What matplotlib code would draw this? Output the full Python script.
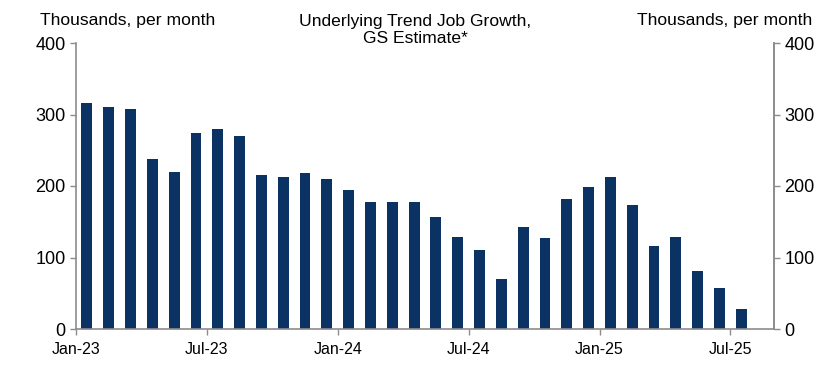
import matplotlib
matplotlib.use("Agg")
import matplotlib.pyplot as plt
import numpy as np

months = ["Jan-23","Feb-23","Mar-23","Apr-23","May-23","Jun-23","Jul-23","Aug-23","Sep-23","Oct-23","Nov-23","Dec-23",
          "Jan-24","Feb-24","Mar-24","Apr-24","May-24","Jun-24","Jul-24","Aug-24","Sep-24","Oct-24","Nov-24","Dec-24",
          "Jan-25","Feb-25","Mar-25","Apr-25","May-25","Jun-25","Jul-25"]
values = [316, 310, 307, 238, 220, 274, 280, 270, 215, 213, 218, 210,
          194, 178, 177, 177, 156, 129, 110, 70, 142, 127, 182, 198,
          213, 174, 116, 128, 81, 58, 28]
tick_labels = ["Jan-23", "Jul-23", "Jan-24", "Jul-24", "Jan-25", "Jul-25"]
y_ticks = [0, 100, 200, 300, 400]

plt.rcParams['font.family'] = ['Liberation Sans', 'DejaVu Sans']
fig = plt.figure(figsize=(8.4, 3.66), dpi=100)
ax = fig.add_axes([76/840, 1-329/366, (774-76)/840, (329-43)/366])

x = np.arange(len(values))
ax.bar(x, values, width=0.5, color='#0a3263')
ax.set_xlim(-0.5, len(values) + 0.5)
ax.set_ylim(0, 400)

tick_pos = [months.index(t) - 0.5 for t in tick_labels]
ax.set_xticks(tick_pos)
ax.set_xticklabels(tick_labels, fontsize=11.5)
ax.set_yticks(y_ticks)
ax.set_yticklabels([str(v) for v in y_ticks], fontsize=13)

gray = '#8c8c8c'
for s in ['left', 'bottom', 'right']:
    ax.spines[s].set_color(gray)
    ax.spines[s].set_linewidth(1.2)
ax.spines['top'].set_visible(False)
ax.tick_params(axis='both', colors=gray, labelcolor='black', length=4, width=1)
ax.tick_params(axis='x', pad=5)

ax2 = ax.twinx()
ax2.set_ylim(0, 400)
ax2.set_yticks(y_ticks)
ax2.set_yticklabels([str(v) for v in y_ticks], fontsize=13)
for s in ['left', 'bottom', 'top']:
    ax2.spines[s].set_visible(False)
ax2.spines['right'].set_color(gray)
ax2.spines['right'].set_linewidth(1.2)
ax2.tick_params(axis='y', colors=gray, labelcolor='black', length=4, width=1)

fig.text(40/840, 1-20/366, "Thousands, per month", fontsize=12.6, ha='left', va='center')
fig.text(812/840, 1-20/366, "Thousands, per month", fontsize=12.6, ha='right', va='center')
fig.text(415/840, 1-30/366, "Underlying Trend Job Growth,\nGS Estimate*", fontsize=12.6,
         ha='center', va='center', linespacing=1.2)

fig.savefig("out.png", dpi=100)
